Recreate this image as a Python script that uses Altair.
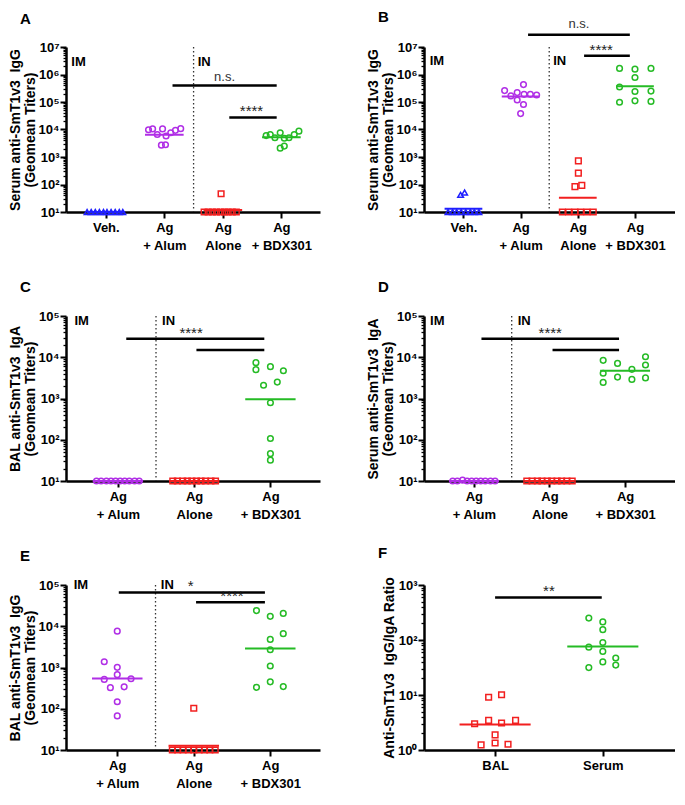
import json
import pandas as pd
import altair as alt

FONT = "Liberation Sans"

# ---------------- data ----------------
# Panel A: serum IgG
A_labels = [["Veh."], ["Ag", "+ Alum"], ["Ag", "Alone"], ["Ag", "+ BDX301"]]
A_veh = [10, 10, 10, 10, 10, 10, 10, 10, 10, 10]
A_veh_jit = [-0.32, -0.25, -0.18, -0.11, -0.04, 0.02, 0.09, 0.16, 0.23, 0.29]
A_alum = [9800, 10500, 6600, 10500, 5800, 7600, 9300, 10700, 2700, 2800]
A_alum_jit = [-0.27, -0.20, -0.12, -0.03, 0.03, 0.11, 0.19, 0.28, -0.05, 0.02]
A_alone = [10, 10, 10, 10, 10, 10, 10, 10, 10, 46]
A_alone_jit = [-0.32, -0.25, -0.18, -0.11, -0.04, 0.03, 0.09, 0.16, 0.23, -0.03]
A_bdx = [6000, 6600, 5000, 7600, 4800, 5000, 6600, 8700, 2100, 2500]
A_bdx_jit = [-0.26, -0.19, -0.11, -0.02, 0.05, 0.13, 0.22, 0.30, -0.02, 0.05]
A_gm = [10, 6500, 11.7, 5200]
A_bars = [[2.14, 3.92, 400000], [3.11, 3.92, 27500]]
A_sig = [["n.s.", 3.03, 560000], ["****", 3.49, 32000]]
A_tags = [["IM", 0.41, 2100000], ["IN", 2.57, 2100000]]

# Panel B: serum IgG
B_labels = [["Veh."], ["Ag", "+ Alum"], ["Ag", "Alone"], ["Ag", "+ BDX301"]]
B_veh = [10, 10, 10, 10, 10, 10, 10, 10, 42, 51]
B_veh_jit = [-0.27, -0.19, -0.12, -0.04, 0.04, 0.12, 0.19, 0.27, -0.05, 0.02]
B_alum = [260000, 166000, 220000, 430000, 190000, 190000, 180000, 118000, 81000, 38000]
B_alum_jit = [-0.28, -0.17, -0.06, 0.05, 0.06, 0.17, 0.28, -0.06, 0.05, 0.0]
B_alone = [10, 10, 10, 10, 10, 10, 720, 260, 84, 93]
B_alone_jit = [-0.27, -0.16, -0.05, 0.05, 0.16, 0.27, 0.01, 0.01, -0.05, 0.07]
B_bdx = [1660000, 1560000, 1660000, 780000, 350000, 240000, 250000, 98000, 110000, 105000]
B_bdx_jit = [-0.27, 0.0, 0.28, 0.0, -0.27, 0.0, 0.28, -0.27, 0.0, 0.28]
B_gm = [13, 160000, 33, 370000]
B_bars = [[2.13, 3.91, 28000000], [3.11, 3.91, 4800000]]
B_sig = [["n.s.", 3.02, 48000000], ["****", 3.41, 5300000]]
B_tags = [["IM", 0.41, 2300000], ["IN", 2.57, 2300000]]

# Panel C: BAL IgA
C_labels = [["Ag", "+ Alum"], ["Ag", "Alone"], ["Ag", "+ BDX301"]]
C_alum = [10, 10, 10, 10, 10, 10, 10, 10, 10, 10]
C_alum_jit = [-0.28, -0.22, -0.15, -0.09, -0.03, 0.03, 0.09, 0.15, 0.22, 0.28]
C_alone = [10, 10, 10, 10, 10, 10, 10, 10, 10, 10]
C_alone_jit = [-0.28, -0.22, -0.15, -0.09, -0.03, 0.03, 0.09, 0.15, 0.22, 0.28]
C_bdx = [7400, 5000, 5900, 4700, 2100, 2500, 790, 107, 46, 32]
C_bdx_jit = [-0.19, -0.19, 0.0, 0.17, -0.09, 0.09, 0.0, 0.0, 0.0, 0.0]
C_gm = [10, 10, 960]
C_bars = [[1.11, 2.92, 28000], [2.03, 2.92, 15000]]
C_sig = [["****", 1.96, 30000]]
C_tags = [["IM", 0.43, 59000], ["IN", 1.58, 59000]]

# Panel D: serum IgA
D_labels = [["Ag", "+ Alum"], ["Ag", "Alone"], ["Ag", "+ BDX301"]]
D_alum = [10, 10, 10.5, 10, 10, 10, 10, 10, 10, 10]
D_alum_jit = [-0.28, -0.22, -0.15, -0.09, -0.03, 0.03, 0.09, 0.15, 0.22, 0.28]
D_alone = [10, 10, 10, 10, 10, 10, 10, 10, 10, 10]
D_alone_jit = [-0.30, -0.23, -0.16, -0.10, -0.03, 0.03, 0.10, 0.16, 0.23, 0.30]
D_bdx = [8400, 4100, 2450, 7100, 3300, 5100, 2900, 10300, 6500, 3150]
D_bdx_jit = [-0.29, -0.29, -0.29, -0.10, -0.10, 0.09, 0.09, 0.27, 0.27, 0.27]
D_gm = [10, 10, 4700]
D_bars = [[1.10, 2.92, 28000], [2.04, 2.92, 15000]]
D_sig = [["****", 2.01, 30000]]
D_tags = [["IM", 0.42, 59000], ["IN", 1.58, 59000]]

# Panel E: BAL IgG
E_labels = [["Ag", "+ Alum"], ["Ag", "Alone"], ["Ag", "+ BDX301"]]
E_alum = [7600, 1380, 1010, 670, 515, 535, 325, 340, 148, 67]
E_alum_jit = [0.0, -0.17, 0.0, 0.0, -0.17, 0.18, -0.09, 0.09, 0.0, 0.0]
E_alone = [10, 10, 10, 10, 10, 10, 10, 10, 10, 103]
E_alone_jit = [-0.28, -0.21, -0.14, -0.07, 0.0, 0.07, 0.14, 0.21, 0.28, 0.0]
E_bdx = [24000, 17400, 20500, 6600, 4800, 2700, 1090, 450, 330, 345]
E_bdx_jit = [-0.18, 0.0, 0.17, 0.17, 0.0, 0.0, 0.0, 0.0, -0.18, 0.17]
E_gm = [540, 12.6, 2900]
E_bars = [[1.02, 2.93, 66000], [2.03, 2.93, 38000]]
E_sig = [["*", 1.96, 70000], ["****", 2.5, 40000]]
E_tags = [["IM", 0.43, 78000], ["IN", 1.57, 78000]]

# Panel F: IgG/IgA ratio
F_labels = [["BAL"], ["Serum"]]
F_bal = [9.1, 10.1, 3.0, 3.46, 3.1, 3.46, 1.88, 1.24, 1.34, 1.27]
F_bal_jit = [-0.06, 0.06, -0.19, -0.06, 0.06, 0.19, 0.0, -0.13, 0.0, 0.12]
F_serum = [250, 213, 154, 74, 90, 62, 40, 47, 35, 31.5]
F_serum_jit = [-0.13, 0.0, 0.0, -0.13, 0.0, 0.0, 0.0, 0.12, 0.12, -0.13]
F_gm = [2.9, 76]
F_bars = [[1.0, 1.99, 590]]
F_sig = [["**", 1.5, 620]]
F_tags = []

# ---------------- styling ----------------
KEYS = ["veh", "alum", "alone", "bdx", "bal", "serum"]
COLS = ["#1f1fff", "#b02ee6", "#f21f1f", "#25bb25", "#f21f1f", "#25bb25"]
SHAPES = ["triangle-up", "circle", "square", "circle", "square", "circle"]
SUP = list("⁰¹²³⁴⁵⁶⁷⁸⁹")
NB = "\u00a0"
LOGV = "(log(datum.value)/LN10)"
MAJOR = f"abs({LOGV} - round({LOGV})) < 0.000001"

W_L, W_R, H = 254, 251, 165


def make_panel(letter, groups, gm, labels, xdom, yexp, ytitle, bars, sig, tags,
               divider, width, t_off):
    pts_rows = []
    gm_rows = []
    for (key, ys, jit), g in zip(groups, range(1, len(groups) + 1)):
        for v, j in zip(ys, jit):
            pts_rows.append({"x": g + j, "y": v, "s": key})
    for (key, ys, jit), g, m in zip(groups, range(1, len(groups) + 1), gm):
        gm_rows.append({"x": g - 0.33, "x2": g + 0.33, "y": m, "s": key})
    pts_df = pd.DataFrame(pts_rows)
    gm_df = pd.DataFrame(gm_rows)
    bar_df = pd.DataFrame(bars, columns=["x", "x2", "y"])
    sig_df = pd.DataFrame(sig, columns=["t", "x", "y"])
    star_df = sig_df[sig_df["t"].str.contains(r"\*")]
    ns_df = sig_df[~sig_df["t"].str.contains(r"\*")]

    lo, hi = yexp
    yvals = [m * 10 ** k for k in range(lo, hi) for m in range(1, 10)] + [10 ** hi]
    yaxis = alt.Axis(
        values=yvals,
        labelExpr=f"{MAJOR} ? '10' + {json.dumps(SUP, ensure_ascii=False)}[round({LOGV})] : ''",
        tickSize={"condition": {"test": MAJOR, "value": 6}, "value": 3},
        tickWidth={"condition": {"test": MAJOR, "value": 2}, "value": 1.3},
        labelOverlap=False, grid=False, title=ytitle,
        labelFontSize=13, labelFontWeight="bold", labelPadding=1,
        titleFontSize=14, titleFontWeight="bold", titlePadding=1, titleLineHeight=15,
        domainWidth=2.5,
    )
    xaxis = alt.Axis(
        values=list(range(1, len(labels) + 1)),
        labelExpr=f"{json.dumps(labels)}[round(datum.value) - 1]",
        title=None, grid=False, labelOverlap=False, labelFlush=False,
        tickSize=6, tickWidth=2, labelFontSize=13, labelFontWeight="bold",
        labelLineHeight=18, labelPadding=3, domainWidth=2.5,
    )
    xs = alt.Scale(domain=xdom, nice=False, zero=False)
    ys = alt.Scale(type="log", domain=[10 ** lo, 10 ** hi], nice=False)
    X = alt.X("x:Q", scale=xs, axis=xaxis)
    Y = alt.Y("y:Q", scale=ys, axis=yaxis)
    color = alt.Color("s:N", scale=alt.Scale(domain=KEYS, range=COLS), legend=None)
    shape = alt.Shape("s:N", scale=alt.Scale(domain=KEYS, range=SHAPES), legend=None)

    layers = []
    if divider is not None:
        div_df = pd.DataFrame({"x": [divider], "y": [10 ** hi], "y2": [10 ** lo]})
        layers.append(alt.Chart(div_df).mark_rule(
            strokeDash=[1.5, 2.5], strokeWidth=1.3, color="#333").encode(x=X, y=Y, y2="y2:Q"))
    layers.append(alt.Chart(gm_df).mark_rule(strokeWidth=2).encode(
        x=X, x2="x2:Q", y=Y, color=color))
    layers.append(alt.Chart(pts_df).mark_point(
        filled=False, size=32, strokeWidth=1.5, opacity=1).encode(
        x=X, y=Y, color=color, shape=shape))
    layers.append(alt.Chart(bar_df).mark_rule(strokeWidth=2.5, color="black").encode(
        x=X, x2="x2:Q", y=Y))
    if len(ns_df):
        layers.append(alt.Chart(ns_df).mark_text(
            align="center", baseline="alphabetic", fontSize=13, font=FONT, color="#333").encode(
            x=X, y=Y, text="t:N"))
    if len(star_df):
        layers.append(alt.Chart(star_df).mark_text(
            align="center", baseline="alphabetic", fontSize=15, font=FONT, color="#222").encode(
            x=X, y=Y, text="t:N"))
    if tags:
        tag_df = pd.DataFrame(tags, columns=["t", "x", "y"])
        layers.append(alt.Chart(tag_df).mark_text(
            align="left", baseline="alphabetic", fontSize=13, fontWeight="bold",
            font=FONT, color="black").encode(x=X, y=Y, text="t:N"))

    return alt.layer(*layers).properties(
        width=width, height=H,
        title=alt.TitleParams(text=letter, anchor="start", frame="group", dx=-46,
                              offset=t_off, fontSize=15, fontWeight="bold",
                              font=FONT, color="black"),
    )


TIT_IGG_S = ["Serum anti-SmT1v3" + NB + " IgG", "(Geomean Titers)"]
pA = make_panel("A", [("veh", A_veh, A_veh_jit), ("alum", A_alum, A_alum_jit),
                      ("alone", A_alone, A_alone_jit), ("bdx", A_bdx, A_bdx_jit)],
                A_gm, A_labels, [0.32, 4.66], (1, 7), TIT_IGG_S, A_bars, A_sig, A_tags,
                2.5, W_L, 14)
pB = make_panel("B", [("veh", B_veh, B_veh_jit), ("alum", B_alum, B_alum_jit),
                      ("alone", B_alone, B_alone_jit), ("bdx", B_bdx, B_bdx_jit)],
                B_gm, B_labels, [0.31, 4.70], (1, 7), TIT_IGG_S, B_bars, B_sig, B_tags,
                2.5, W_R, -7)
pC = make_panel("C", [("alum", C_alum, C_alum_jit), ("alone", C_alone, C_alone_jit),
                      ("bdx", C_bdx, C_bdx_jit)],
                C_gm, C_labels, [0.32, 3.65], (1, 5),
                ["BAL anti-SmT1v3" + NB + " IgA", "(Geomean Titers)"],
                C_bars, C_sig, C_tags, 1.5, W_L, 15)
pD = make_panel("D", [("alum", D_alum, D_alum_jit), ("alone", D_alone, D_alone_jit),
                      ("bdx", D_bdx, D_bdx_jit)],
                D_gm, D_labels, [0.34, 3.66], (1, 5),
                ["Serum anti-SmT1v3" + NB + " IgA", "(Geomean Titers)"],
                D_bars, D_sig, D_tags, 1.5, W_R, 15)
pE = make_panel("E", [("alum", E_alum, E_alum_jit), ("alone", E_alone, E_alone_jit),
                      ("bdx", E_bdx, E_bdx_jit)],
                E_gm, E_labels, [0.33, 3.65], (1, 5),
                ["BAL anti-SmT1v3" + NB + " IgG", "(Geomean Titers)"],
                E_bars, E_sig, E_tags, 1.5, W_L, 15)
pF = make_panel("F", [("bal", F_bal, F_bal_jit), ("serum", F_serum, F_serum_jit)],
                F_gm, F_labels, [0.34, 2.67], (0, 3),
                "Anti-SmT1v3" + NB + " IgG/IgA Ratio",
                F_bars, F_sig, F_tags, None, W_R, 15)

chart = alt.concat(
    pA, pB, pC, pD, pE, pF, columns=2,
    spacing={"row": 104, "column": 104}, bounds="flush",
).properties(
    padding={"top": 2, "left": 0, "right": 0, "bottom": 0}
).configure_view(stroke=None).configure_axis(
    labelFont=FONT, titleFont=FONT, domainColor="black", tickColor="black",
    labelColor="black", titleColor="black",
)

chart.save("out.html", embed_options={"renderer": "svg", "actions": False})
